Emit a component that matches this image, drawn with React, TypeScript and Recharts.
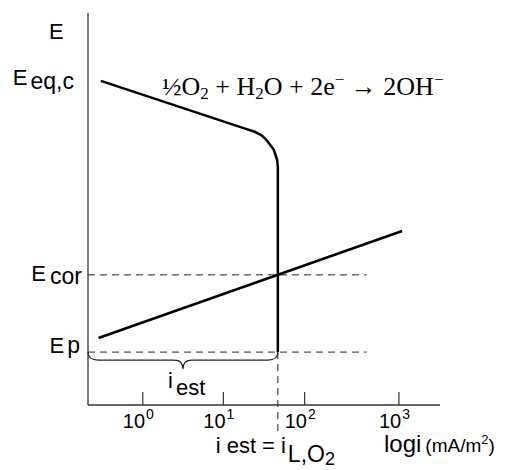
import { LineChart, Line, XAxis, YAxis, ReferenceLine, ReferenceArea } from 'recharts'

// x = log10(i), y = E in arbitrary units (0 at the i axis)
const cathodicLogI = [-0.52, 1.27, 1.39, 1.478, 1.537, 1.627, 1.668, 1.677, 1.677]
const cathodicE = [82.7, 70.5, 69.7, 68.75, 67.6, 65.1, 62.5, 60.7, 13.5]
const anodicLogI = [-0.55, 3.22]
const anodicE = [17.1, 44.4]

const tickLogI = [0, 1, 2.01, 3.18]
const tickExponents = ['0', '1', '2', '3']

const potentialLevels = [82.7, 33.2, 13.5]
const potentialNames = ['eq,c', 'cor', 'p']

const limitingLogI = 1.677
const dashEndLogI = 2.78
const braceTipE = 9.2
const belowAxisE = -7.1

const sans = '"Liberation Sans", Arial, sans-serif'
const serif = '"Liberation Serif", "Times New Roman", serif'

const cathodicData = cathodicLogI.map((x, i) => ({ x, e: cathodicE[i] }))
const anodicData = anodicLogI.map((x, i) => ({ x, e: anodicE[i] }))

const potentialTickStyle = [
	{ end: -14, base: 4.5, sub: 3.5, gap: 3 },
	{ end: -6, base: 6, sub: 3, gap: 4 },
	{ end: -8, base: 0.5, sub: 0, gap: 3 },
]

const PotentialTick = ({ x, y, payload }: any) => {
	const idx = potentialLevels.indexOf(payload.value)
	if (idx < 0) return null
	const s = potentialTickStyle[idx]
	return (
		<text x={x + s.end} y={y + s.base} textAnchor='end' fontFamily={sans} fontSize={22} fill='#000'>
			E
			<tspan dx={s.gap} dy={s.sub} fontSize={23}>
				{potentialNames[idx]}
			</tspan>
		</text>
	)
}

const DecadeTick = ({ x, y, index }: any) => (
	<g>
		<line x1={x} y1={y} x2={x} y2={y - 13} stroke='#333' strokeWidth={1.2} />
		<text x={x - 20} y={y + 23} fontFamily={sans} fontSize={20} fill='#000'>
			10
			<tspan dx={1} dy={-9} fontSize={14}>
				{tickExponents[index]}
			</tspan>
		</text>
	</g>
)

const Brace = ({ x, y, width, height }: any) => {
	const mid = x + width / 2
	const yh = y + 8
	const x1 = x + width
	const d = `M${x},${y} Q${x},${yh} ${x + 10},${yh} L${mid - 9},${yh} Q${mid},${yh} ${mid},${y + height} Q${mid},${yh} ${mid + 9},${yh} L${x1 - 10},${yh} Q${x1},${yh} ${x1},${y}`
	return <path d={d} fill='none' stroke='#222' strokeWidth={1.1} />
}

const App = () => {
	return (
		<div style={{ position: 'absolute', left: 0, top: 0, width: 510, height: 470, background: '#fff' }}>
			<LineChart width={510} height={470} margin={{ top: 13, right: 70, bottom: 35, left: 28 }}>
				<XAxis
					type='number'
					dataKey='x'
					domain={[-0.68, 3.69]}
					ticks={tickLogI}
					interval={0}
					tickSize={0}
					tickMargin={0}
					tickLine={false}
					tick={<DecadeTick />}
					height={30}
					stroke='#333'
					strokeWidth={1.3}
					allowDataOverflow
					label={{
						content: ({ viewBox }: any) => (
							<text x={viewBox.x + viewBox.width - 56} y={viewBox.y + 47} fontFamily={sans} fill='#000'>
								<tspan fontSize={24}>logi</tspan>
								<tspan dx={4} fontSize={19}>(mA/m</tspan>
								<tspan dy={-8} fontSize={13}>2</tspan>
								<tspan dy={8} fontSize={19}>)</tspan>
							</text>
						),
					}}
				/>
				<YAxis
					type='number'
					domain={[0, 100]}
					ticks={potentialLevels}
					interval={0}
					width={60}
					tickSize={0}
					tickMargin={0}
					tickLine={false}
					tick={<PotentialTick />}
					stroke='#333'
					strokeWidth={1.3}
					label={{
						content: ({ viewBox }: any) => (
							<text x={viewBox.x + 21} y={viewBox.y + 26} fontFamily={sans} fontSize={22} fill='#000'>
								E
							</text>
						),
					}}
				/>
				<ReferenceLine
					segment={[
						{ x: -0.68, y: potentialLevels[1] },
						{ x: dashEndLogI, y: potentialLevels[1] },
					]}
					stroke='#222'
					strokeWidth={1}
					strokeDasharray='7 5'
				/>
				<ReferenceLine
					segment={[
						{ x: -0.68, y: potentialLevels[2] },
						{ x: dashEndLogI, y: potentialLevels[2] },
					]}
					stroke='#222'
					strokeWidth={1}
					strokeDasharray='7 5'
				/>
				<ReferenceLine
					segment={[
						{ x: limitingLogI, y: potentialLevels[2] },
						{ x: limitingLogI, y: belowAxisE },
					]}
					ifOverflow='visible'
					stroke='#222'
					strokeWidth={1}
					strokeDasharray='7 5'
					label={{
						content: ({ viewBox }: any) => (
							<text x={viewBox.x - 62} y={453} fontFamily={sans} fontSize={22} fill='#000'>
								i
								<tspan dx={6}>est</tspan>
								<tspan dx={6}>=</tspan>
								<tspan dx={6}>i</tspan>
								<tspan dx={2} dy={9} fontSize={23}>
									L,O
								</tspan>
								<tspan dy={3} fontSize={18}>
									2
								</tspan>
							</text>
						),
					}}
				/>
				<ReferenceArea
					x1={-0.68}
					x2={limitingLogI}
					y1={braceTipE}
					y2={potentialLevels[2]}
					shape={<Brace />}
					label={{
						content: ({ viewBox }: any) => (
							<text x={viewBox.x + 80} y={viewBox.y + 36} fontFamily={sans} fontSize={22} fill='#000'>
								i
								<tspan dx={3} dy={7}>
									est
								</tspan>
							</text>
						),
					}}
				/>
				<Line
					data={cathodicData}
					dataKey='e'
					type='linear'
					stroke='#000'
					strokeWidth={2.5}
					dot={false}
					isAnimationActive={false}
				/>
				<Line
					data={anodicData}
					dataKey='e'
					type='linear'
					stroke='#000'
					strokeWidth={2.5}
					dot={false}
					isAnimationActive={false}
				/>
			</LineChart>
			<svg width={510} height={470} style={{ position: 'absolute', left: 0, top: 0, pointerEvents: 'none' }}>
				<text x={162} y={95} fontFamily={serif} fontSize={26} fill='#000'>
					½O
					<tspan dy={4} fontSize={17}>2</tspan>
					<tspan dy={-4}> + H</tspan>
					<tspan dy={4} fontSize={17}>2</tspan>
					<tspan dy={-4}>O + 2e</tspan>
					<tspan dy={-10} fontSize={17}>−</tspan>
					<tspan dy={10}> → 2OH</tspan>
					<tspan dy={-10} fontSize={17}>−</tspan>
				</text>
			</svg>
		</div>
	)
}

export default App
